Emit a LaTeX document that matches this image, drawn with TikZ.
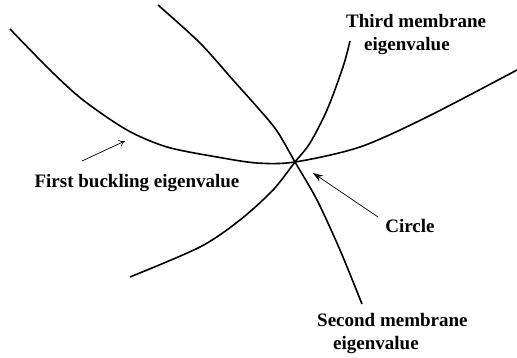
\documentclass[tikz,border=0pt]{standalone}
\usepackage{fontspec}
\setmainfont{Liberation Serif}
\usetikzlibrary{arrows.meta,positioning}

\tikzset{
	curve/.style={line width=1.6pt,smooth,tension=0.5},
	lab/.style={font=\fontsize{19}{23}\selectfont\bfseries,align=center,inner sep=0pt}
}

\begin{document}
\begin{tikzpicture}[x=1pt,y=-1pt]
	\useasboundingbox (0,0) rectangle (517,358);
	\coordinate (X) at (295,162);
	% eigenvalue curves
	\draw[curve] plot coordinates {(10,29) (50,70) (83,100) (127,130) (167,147) (217,157) (257,163) (X) (360,147) (427,117) (517,70)};
	\draw[curve] plot coordinates {(158,5) (200,43) (233,80) (258,108) (277,131) (X) (317,200) (340,250) (362,304)};
	\draw[curve] plot coordinates {(130,277) (200,247) (240,220) (273,190) (X) (310,143) (327,110) (343,67) (350,41)};
	% labels
	\node[lab] (fb) at (137,183) {First buckling eigenvalue};
	\node[lab] (ci) at (410,226) {Circle};
	\node[lab,align=left,anchor=west] (tm) at (346,35) {Third membrane\\\hspace*{18pt}eigenvalue};
	\node[lab,align=left,anchor=west] (sm) at (317,334) {Second membrane\\\hspace*{16pt}eigenvalue};
	\coordinate (fbtail) at (82,161);
	\coordinate (fbhead) at (125,141);
	\coordinate (citail) at (378,217);
	\coordinate (cihead) at (313,173);
	\path[line width=0.7pt]
	(fbtail) edge[-{To[length=6pt,width=7pt]}] (fbhead)
	(citail) edge[-{Stealth[length=10pt,width=7pt]}] (cihead);
\end{tikzpicture}
\end{document}
